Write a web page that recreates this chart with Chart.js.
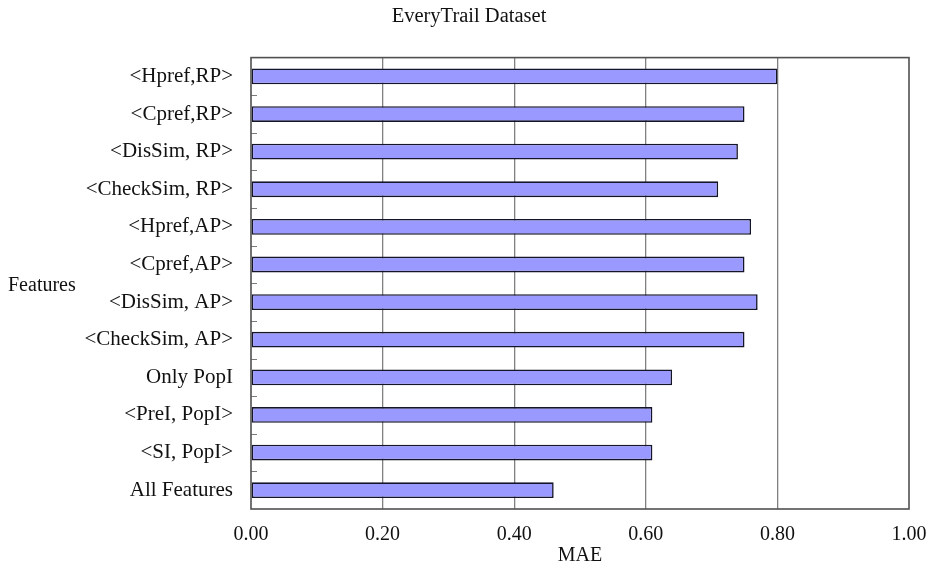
<!DOCTYPE html>
<html>
<head>
<meta charset="utf-8">
<title>EveryTrail Dataset</title>
<script src="https://cdn.jsdelivr.net/npm/chart.js@4/dist/chart.umd.min.js"></script>
<style>
  html, body { margin: 0; padding: 0; background: #ffffff; }
  #wrap { width: 929px; height: 569px; position: relative; }
</style>
</head>
<body>
<div id="wrap"><canvas id="chart"></canvas></div>
<script>
// Feature combinations, listed top to bottom
const featureLabels = [
  '<Hpref,RP>',
  '<Cpref,RP>',
  '<DisSim, RP>',
  '<CheckSim, RP>',
  '<Hpref,AP>',
  '<Cpref,AP>',
  '<DisSim, AP>',
  '<CheckSim, AP>',
  'Only PopI',
  '<PreI, PopI>',
  '<SI, PopI>',
  'All Features'
];

// Mean absolute error for each feature combination
const maeValues = [0.80, 0.75, 0.74, 0.71, 0.76, 0.75, 0.77, 0.75, 0.64, 0.61, 0.61, 0.46];

// Values shown along the MAE axis
const maeTicks = [0.00, 0.20, 0.40, 0.60, 0.80, 1.00];

const SERIF = "'Liberation Serif', 'Times New Roman', serif";

// Frame around the plot, short marks between categories, and the vertical axis caption
const framePlugin = {
  id: 'frame',
  afterDatasetsDraw(chart) {
    const { ctx, chartArea: a, scales } = chart;
    const y = scales.y;
    ctx.save();
    // short marks on the inside of the left edge, between categories
    ctx.strokeStyle = '#7a7a7a';
    ctx.lineWidth = 1;
    for (let i = 1; i < featureLabels.length; i++) {
      const py = Math.round((y.getPixelForTick(i - 1) + y.getPixelForTick(i)) / 2) + 0.5;
      ctx.beginPath();
      ctx.moveTo(a.left, py);
      ctx.lineTo(a.left + 6, py);
      ctx.stroke();
    }
    // plot frame
    ctx.strokeStyle = '#505050';
    ctx.lineWidth = 1.6;
    ctx.strokeRect(a.left, a.top, a.right - a.left, a.bottom - a.top);
    // vertical axis caption, set horizontally
    ctx.fillStyle = '#111111';
    ctx.font = '20px ' + SERIF;
    ctx.textAlign = 'left';
    ctx.textBaseline = 'middle';
    ctx.fillText('Features', 8, (a.top + a.bottom) / 2 + 2);
    ctx.restore();
  }
};

new Chart(document.getElementById('chart'), {
  type: 'bar',
  data: {
    labels: featureLabels,
    datasets: [{
      label: 'MAE',
      data: maeValues,
      backgroundColor: '#9999ff',
      borderColor: '#15152a',
      borderWidth: 1.6,
      borderSkipped: false,
      barPercentage: 0.42,
      categoryPercentage: 1.0
    }]
  },
  options: {
    indexAxis: 'y',
    responsive: true,
    maintainAspectRatio: false,
    animation: false,
    layout: { padding: { left: 29, right: 20, top: 0, bottom: 0 } },
    plugins: {
      legend: { display: false },
      tooltip: { enabled: false },
      title: {
        display: true,
        text: 'EveryTrail Dataset',
        color: '#111111',
        font: { family: SERIF, size: 20.5, weight: 'normal' },
        padding: { top: 4, bottom: 29 }
      }
    },
    scales: {
      x: {
        type: 'linear',
        min: 0,
        max: 1,
        afterBuildTicks(scale) {
          scale.ticks = maeTicks.map(v => ({ value: v }));
        },
        afterFit(scale) {
          scale.height = 60;
          scale.paddingLeft = 0;
          scale.paddingRight = 0;
        },
        ticks: {
          color: '#111111',
          font: { family: SERIF, size: 20 },
          padding: 14,
          maxRotation: 0,
          callback: v => Number(v).toFixed(2)
        },
        grid: {
          drawTicks: false,
          lineWidth: 1.3,
          color: ctx => (ctx.tick && (ctx.tick.value === 0 || ctx.tick.value === 1)) ? 'rgba(0,0,0,0)' : '#808080'
        },
        border: { display: false },
        title: {
          display: true,
          text: 'MAE',
          color: '#111111',
          font: { family: SERIF, size: 20 },
          padding: { top: 0, bottom: 1 }
        }
      },
      y: {
        type: 'category',
        afterFit(scale) { scale.width = 222; },
        ticks: {
          color: '#111111',
          font: { family: SERIF, size: 21 },
          padding: 18
        },
        grid: { display: false, drawTicks: false },
        border: { display: false }
      }
    }
  },
  plugins: [framePlugin]
});
</script>
</body>
</html>
